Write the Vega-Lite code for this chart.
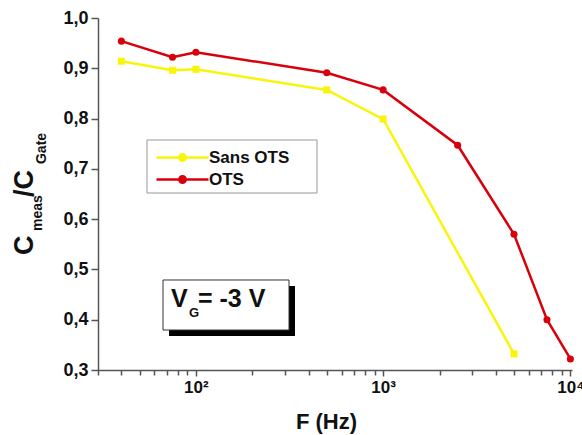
{
  "$schema": "https://vega.github.io/schema/vega-lite/v6.json",
  "width": 474,
  "height": 352,
  "autosize": "none",
  "padding": {"left": 98, "top": 18, "right": 10, "bottom": 65},
  "background": "white",
  "config": {
    "view": {"stroke": null},
    "font": "Liberation Sans",
    "axis": {"grid": false, "domainColor": "#555", "domainWidth": 1.5, "tickColor": "#555", "tickWidth": 1.5, "labelFont": "Liberation Sans", "labelFontWeight": "bold", "labelColor": "#111", "titleFont": "Liberation Sans", "titleFontWeight": "bold", "titleColor": "#111"}
  },
  "data": {"values": [
    {"F": 40, "C": 0.914, "series": "Sans OTS"},
    {"F": 75, "C": 0.896, "series": "Sans OTS"},
    {"F": 100, "C": 0.898, "series": "Sans OTS"},
    {"F": 500, "C": 0.857, "series": "Sans OTS"},
    {"F": 1000, "C": 0.799, "series": "Sans OTS"},
    {"F": 5000, "C": 0.332, "series": "Sans OTS"},
    {"F": 40, "C": 0.954, "series": "OTS"},
    {"F": 75, "C": 0.922, "series": "OTS"},
    {"F": 100, "C": 0.932, "series": "OTS"},
    {"F": 500, "C": 0.891, "series": "OTS"},
    {"F": 1000, "C": 0.857, "series": "OTS"},
    {"F": 2500, "C": 0.747, "series": "OTS"},
    {"F": 5000, "C": 0.570, "series": "OTS"},
    {"F": 7500, "C": 0.400, "series": "OTS"},
    {"F": 10000, "C": 0.322, "series": "OTS"}
  ]},
  "layer": [
    {
      "data": {"values": [{}]},
      "mark": {"type": "rect", "fill": "white", "stroke": "#999", "strokeWidth": 1},
      "encoding": {
        "x": {"datum": 54.8, "type": "quantitative"}, "x2": {"datum": 443.3},
        "y": {"datum": 0.7574, "type": "quantitative"}, "y2": {"datum": 0.652}
      }
    },
    {
      "mark": {"type": "line", "strokeWidth": 2.5},
      "encoding": {
        "x": {"field": "F", "type": "quantitative",
          "scale": {"type": "log", "domain": [30, 10200], "nice": false},
          "axis": {
            "values": [30,40,50,60,70,80,90,100,200,300,400,500,600,700,800,900,1000,2000,3000,4000,5000,6000,7000,8000,9000,10000],
            "labelExpr": "datum.value == 100 ? '10²' : datum.value == 1000 ? '10³' : datum.value == 10000 ? '10⁴' : ''",
            "labelFontSize": 17, "labelPadding": 3, "labelFlush": false, "labelOverlap": false,
            "tickSize": {"condition": {"test": "datum.value == 100 || datum.value == 1000 || datum.value == 10000", "value": 6}, "value": 5},
            "title": "F (Hz)", "titleFontSize": 22, "titleX": 228, "titleY": 58, "titleBaseline": "alphabetic", "titleAlign": "center", "titleAnchor": "start"
          }},
        "y": {"field": "C", "type": "quantitative",
          "scale": {"domain": [0.3, 1.0], "nice": false, "zero": false},
          "axis": {
            "values": [0.3,0.35,0.4,0.45,0.5,0.55,0.6,0.65,0.7,0.75,0.8,0.85,0.9,0.95,1.0],
            "labelExpr": "round(datum.value*100) % 10 == 0 ? replace(format(datum.value, '.1f'), '.', ',') : ''",
            "labelFontSize": 18, "labelPadding": 3, "labelFlush": false, "labelOverlap": false,
            "tickSize": {"condition": {"test": "round(datum.value*100) % 10 == 0", "value": 7}, "value": 4},
            "title": null
          }},
        "color": {"field": "series", "type": "nominal",
          "scale": {"domain": ["Sans OTS", "OTS"], "range": ["#f9f50a", "#d8000c"]},
          "legend": {
            "title": null, "orient": "none", "legendX": 49, "legendY": 122,
            "padding": 8, "strokeColor": null, "fillColor": null, "cornerRadius": 0,
            "labelFont": "Liberation Sans", "labelFontWeight": "bold", "labelFontSize": 17, "labelColor": "#111",
            "symbolType": "M-3.25,0H3.25M0.4,0A0.4,0.4,0,1,1,-0.4,0A0.4,0.4,0,1,1,0.4,0Z",
            "symbolSize": 256, "symbolStrokeWidth": 2.5, "symbolOffset": 18, "labelOffset": 17, "rowPadding": 4,
            "encode": {"symbols": {"update": {
              "fill": {"signal": "scale('color', datum.value)"},
              "stroke": {"signal": "scale('color', datum.value)"}
            }}}
          }}
      }
    },
    {
      "transform": [{"filter": "datum.series == 'Sans OTS'"}],
      "mark": {"type": "point", "filled": true, "opacity": 1, "shape": "square", "size": 50},
      "encoding": {
        "x": {"field": "F", "type": "quantitative"},
        "y": {"field": "C", "type": "quantitative"},
        "color": {"field": "series", "type": "nominal", "legend": null}
      }
    },
    {
      "transform": [{"filter": "datum.series == 'OTS'"}],
      "mark": {"type": "point", "filled": true, "opacity": 1, "shape": "circle", "size": 50},
      "encoding": {
        "x": {"field": "F", "type": "quantitative"},
        "y": {"field": "C", "type": "quantitative"},
        "color": {"field": "series", "type": "nominal", "legend": null}
      }
    },
    {
      "data": {"values": [{}]},
      "mark": {"type": "rect", "color": "black"},
      "encoding": {
        "x": {"datum": 71.83, "type": "quantitative"}, "x2": {"datum": 338.2},
        "y": {"datum": 0.467, "type": "quantitative"}, "y2": {"datum": 0.3676}
      }
    },
    {
      "data": {"values": [{}]},
      "mark": {"type": "rect", "fill": "white", "stroke": "#333", "strokeWidth": 1},
      "encoding": {
        "x": {"datum": 66.73, "type": "quantitative"}, "x2": {"datum": 314.2},
        "y": {"datum": 0.479, "type": "quantitative"}, "y2": {"datum": 0.3795}
      }
    },
    {
      "data": {"values": [{"t": "V", "x": 73.6, "y": 0.4253, "s": "big"}, {"t": "G", "x": 91.8, "y": 0.4054, "s": "small"}, {"t": "= -3 V", "x": 102.6, "y": 0.4253, "s": "big"}]},
      "mark": {"type": "text", "align": "left", "baseline": "alphabetic", "font": "Liberation Sans", "fontWeight": "bold", "color": "#111"},
      "encoding": {
        "x": {"field": "x", "type": "quantitative"},
        "y": {"field": "y", "type": "quantitative"},
        "text": {"field": "t"},
        "size": {"field": "s", "type": "nominal", "scale": {"domain": ["big", "small"], "range": [25, 13]}, "legend": null}
      }
    },
    {
      "data": {"values": [{"t": "C", "x": 13.49, "y": 0.5287, "s": "big"}, {"t": "meas", "x": 15.07, "y": 0.5764, "s": "small"}, {"t": "/C", "x": 13.49, "y": 0.644, "s": "big"}, {"t": "Gate", "x": 15.83, "y": 0.7096, "s": "small"}]},
      "mark": {"type": "text", "align": "left", "baseline": "alphabetic", "angle": 270, "font": "Liberation Sans", "fontWeight": "bold", "color": "#111"},
      "encoding": {
        "x": {"field": "x", "type": "quantitative"},
        "y": {"field": "y", "type": "quantitative"},
        "text": {"field": "t"},
        "size": {"field": "s", "type": "nominal", "scale": {"domain": ["big", "small"], "range": [27, 14]}, "legend": null}
      }
    }
  ],
  "resolve": {"scale": {"size": "independent"}}
}
